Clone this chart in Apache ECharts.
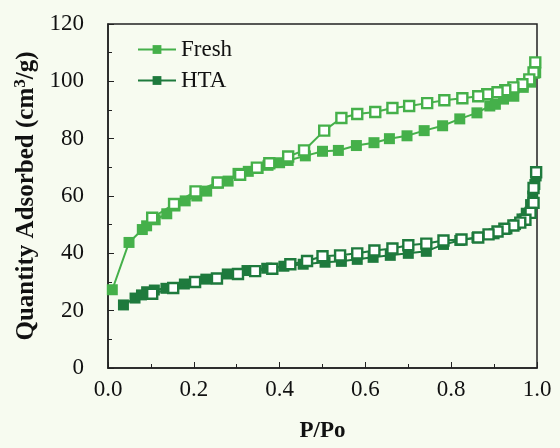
<!DOCTYPE html>
<html><head><meta charset="utf-8">
<script src="https://cdn.jsdelivr.net/npm/echarts@6/dist/echarts.min.js"></script>
<style>html,body{margin:0;padding:0;background:#f7fbf0;}#c{width:560px;height:448px;}</style>
</head><body><div id="c"></div>
<script>
// Fresh adsorption (filled)
const freshAdsP = [0.01,0.049,0.08,0.09,0.11,0.137,0.156,0.18,0.207,0.23,0.254,0.28,0.303,0.327,0.35,0.373,0.40,0.42,0.46,0.50,0.537,0.579,0.62,0.656,0.697,0.737,0.78,0.82,0.86,0.89,0.903,0.922,0.946,0.968,0.985,0.997];
const freshAdsQ = [27.3,43.8,48.3,49.6,51.7,53.8,56.5,58.3,60.0,61.7,64.5,65.2,67.9,68.6,69.6,70.7,71.6,72.4,74.0,75.6,75.9,77.6,78.6,80.0,81.0,82.8,84.5,86.9,89.0,91.4,92.0,93.8,94.8,97.9,99.7,103.0];
// Fresh desorption (open)
const freshDesP = [0.996,0.992,0.982,0.966,0.945,0.926,0.908,0.884,0.863,0.826,0.784,0.744,0.702,0.663,0.623,0.581,0.544,0.504,0.457,0.42,0.376,0.347,0.308,0.256,0.204,0.154,0.103];
const freshDesQ = [106.6,103.1,100.7,99.0,97.9,96.9,96.2,95.5,94.8,94.1,93.4,92.4,91.4,90.7,89.3,88.6,87.2,82.8,75.9,73.8,71.4,69.9,67.4,64.7,61.6,57.2,52.4];
// HTA adsorption (filled)
const htaAdsP = [0.036,0.063,0.078,0.09,0.108,0.135,0.178,0.228,0.278,0.324,0.37,0.41,0.455,0.506,0.544,0.581,0.618,0.658,0.70,0.742,0.782,0.82,0.86,0.90,0.93,0.95,0.965,0.975,0.985,0.99,0.995,0.998];
const htaAdsQ = [22.0,24.4,25.5,26.6,27.2,27.8,29.3,31.0,32.8,34.0,34.8,35.5,36.2,36.9,37.2,37.9,38.6,39.3,40.0,40.7,43.1,44.5,45.5,46.8,48.5,50.0,52.0,54.0,57.0,60.0,64.0,67.0];
// HTA desorption (open)
const htaDesP = [0.998,0.992,0.992,0.985,0.973,0.961,0.945,0.924,0.908,0.887,0.863,0.824,0.782,0.742,0.70,0.663,0.621,0.581,0.541,0.50,0.464,0.425,0.383,0.343,0.303,0.254,0.203,0.152,0.103];
const htaDesQ = [68.3,62.8,57.6,54.1,51.7,50.7,49.7,48.6,47.6,46.6,45.5,44.8,44.5,43.4,42.8,41.7,41.0,40.0,39.3,39.0,37.3,36.2,34.6,33.8,32.8,31.2,30.0,27.9,25.9];
const xTicks = ['0.0','0.2','0.4','0.6','0.8','1.0'];

const FRESH = '#45b04a', HTA = '#1e7a3d';
const zip = (a,b) => a.map((v,i)=>[v,b[i]]);
const font = '"Liberation Serif","Times New Roman",serif';

const chart = echarts.init(document.getElementById('c'));
function ser(name, p, q, color, open, z) {
  return {
    name, type:'line', data: zip(p,q), z,
    symbol:'rect', symbolSize: open ? 10 : 11,
    lineStyle:{color, width:2},
    itemStyle: open ? {color:'#ffffff', borderColor:color, borderWidth:2.4} : {color, borderColor:color, borderWidth:0},
    emphasis:{disabled:true}
  };
}
chart.setOption({
  animation:false,
  backgroundColor:'#f7fbf0',
  grid:{left:108, right:23, top:24, bottom:76, show:true, borderColor:'#222', borderWidth:1.5, backgroundColor:'transparent'},
  legend:{
    data:['Fresh','HTA'], orient:'vertical', left:132, top:33, itemGap:8,
    itemWidth:38, itemHeight:11,
    textStyle:{fontFamily:font, fontSize:23, color:'#111'}
  },
  xAxis:{
    type:'value', min:0, max:1, interval:0.2,
    name:'P/Po', nameLocation:'middle', nameGap:52,
    nameTextStyle:{fontFamily:font, fontSize:23, fontWeight:'bold', color:'#111'},
    axisLine:{lineStyle:{color:'#222', width:1.5}},
    axisTick:{inside:true, length:6, lineStyle:{color:'#222'}},
    minorTick:{show:true, splitNumber:2, length:4, lineStyle:{color:'#222'}},
    splitLine:{show:false},
    axisLabel:{fontFamily:font, fontSize:23, color:'#111', margin:10, formatter:(v)=>xTicks[Math.round(v/0.2)]}
  },
  yAxis:{
    type:'value', min:0, max:120, interval:20,
    name:'{a|Quantity Adsorbed (cm}{s|3}{a|/g)}', nameLocation:'middle', nameGap:62, nameRotate:90,
    nameTextStyle:{rich:{
      a:{fontFamily:font, fontSize:25, fontWeight:'bold', color:'#111'},
      s:{fontFamily:font, fontSize:17, fontWeight:'bold', color:'#111', verticalAlign:'top', padding:[0,0,10,0]}
    }},
    axisLine:{lineStyle:{color:'#222', width:1.5}},
    axisTick:{inside:true, length:6, lineStyle:{color:'#222'}},
    minorTick:{show:true, splitNumber:2, length:4, lineStyle:{color:'#222'}},
    splitLine:{show:false},
    axisLabel:{fontFamily:font, fontSize:23, color:'#111', margin:24}
  },
  series:[
    ser('Fresh', freshAdsP, freshAdsQ, FRESH, false, 2),
    ser('Fresh desorption', freshDesP, freshDesQ, FRESH, true, 3),
    ser('HTA', htaAdsP, htaAdsQ, HTA, false, 2),
    ser('HTA desorption', htaDesP, htaDesQ, HTA, true, 3)
  ]
});
</script></body></html>
